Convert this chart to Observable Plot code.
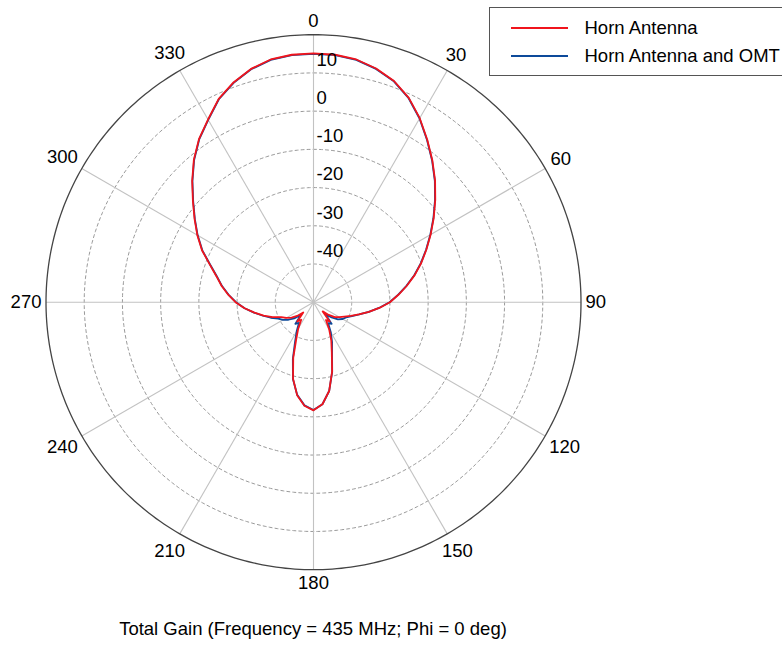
<!DOCTYPE html>
<html><head><meta charset="utf-8">
<script src="https://cdn.jsdelivr.net/npm/d3@7"></script>
<script src="https://cdn.jsdelivr.net/npm/@observablehq/plot@0.6"></script>
<style>
body{margin:0;background:#fff;overflow:hidden;font-family:"Liberation Sans",Arial,sans-serif;}
#wrap{position:relative;width:782px;height:646px;overflow:hidden;}
#legend{position:absolute;left:489px;top:7px;width:330px;height:69px;border:1.5px solid #555;box-sizing:border-box;background:#fff;}
.row{position:absolute;left:0;height:21px;}
.sw{position:absolute;left:20.5px;width:57px;height:0;border-top:2px solid;}
.lab{position:absolute;left:94.5px;font-size:18.5px;line-height:21px;white-space:nowrap;color:#000;}
#caption{position:absolute;left:0;top:617.5px;width:626px;text-align:center;font-size:18.5px;line-height:21px;color:#000;}
</style>
</head><body>
<div id="wrap"><div id="chart"></div>
<div id="legend"></div>
<div id="caption"></div>
</div>
<script>
// ---- data (angle in degrees, gain in dB) ----
const angles = [0,5,10,15,20,25,30,35,40,45,50,55,60,65,70,75,80,85,90,95,100,105,110,115,120,125,130,135,140,145,150,155,160,165,170,175,180,185,190,195,200,205,210,215,220,225,230,235,240,245,250,255,260,265,270,275,280,285,290,295,300,305,310,315,320,325,330,335,340,345,350,355];
const hornGain = [15.1,15.0,14.5,13.3,11.6,9.0,5.6,1.9,-1.6,-5.0,-8.4,-11.6,-14.6,-17.4,-20.0,-22.6,-25.2,-27.7,-30.0,-32.7,-35.3,-37.7,-39.6,-41.1,-42.2,-43.2,-44.8,-46.6,-43.4,-44.3,-41.8,-39.0,-36.0,-31.2,-26.4,-23.2,-21.7,-22.8,-25.3,-29.3,-34.5,-39.3,-42.0,-44.4,-43.4,-46.2,-44.4,-43.0,-41.8,-40.7,-38.6,-36.5,-34.3,-31.9,-29.6,-27.6,-25.6,-23.7,-21.1,-17.8,-14.9,-12.0,-8.8,-5.1,-1.3,2.2,5.2,8.7,11.2,13.2,14.5,15.0];
const hornOmtGain = [15.0,14.9,14.4,13.2,11.5,8.9,5.5,1.8,-1.7,-5.1,-8.5,-11.7,-14.7,-17.5,-20.1,-22.7,-25.3,-27.8,-30.1,-32.8,-35.3,-37.6,-39.3,-40.6,-41.2,-42.2,-43.8,-45.6,-42.6,-43.3,-41.0,-38.5,-35.8,-31.1,-26.4,-23.2,-21.8,-22.9,-25.4,-29.2,-34.2,-38.6,-41.2,-43.4,-42.6,-45.3,-43.4,-42.0,-40.8,-39.8,-38.1,-36.3,-34.2,-31.9,-29.7,-27.7,-25.7,-23.8,-21.2,-17.9,-15.0,-12.1,-8.9,-5.2,-1.4,2.1,5.1,8.6,11.1,13.1,14.4,14.9];
const seriesNames = ["Horn Antenna", "Horn Antenna and OMT"];
const seriesColors = ["#f0141c", "#0d4a9a"];
const ringLevels = [-40,-30,-20,-10,0,10];
const ringLabels = ["-40","-30","-20","-10","0","10"];
const outerLevel = 20;
const rMin = -50;
const spokeAngles = [0,30,60,90,120,150,180,210,240,270,300,330];
const spokeLabels = ["0","30","60","90","120","150","180","210","240","270","300","330"];
const captionText = "Total Gain (Frequency = 435 MHz; Phi = 0 deg)";

// ---- geometry helpers ----
const W = 782, H = 608, cx = 313, cy = 301.7, outerPx = 267.5;
const span = outerLevel - rMin;            // 70 units
const k = outerPx / span;                  // px per unit
const rad = d => d * Math.PI / 180;
const px = (a, r) => r * Math.sin(rad(a));
const py = (a, r) => r * Math.cos(rad(a));

const rows = [];
angles.forEach((a, i) => rows.push({series: seriesNames[1], a, r: hornOmtGain[i] - rMin}));
angles.forEach((a, i) => rows.push({series: seriesNames[0], a, r: hornGain[i] - rMin}));

const circleSteps = d3.range(0, 360, 1);
const ringPts = [];
ringLevels.forEach(lv => circleSteps.forEach(t => ringPts.push({lv, t, r: lv - rMin})));
const outerPts = circleSteps.map(t => ({t, r: span}));

const labelRows = spokeAngles.map((a, i) => {
  const s = spokeLabels[i];
  const w = s.length * 10.3, h = 18.5;
  const Rpx = 272 + Math.abs(Math.sin(rad(a))) * w / 2 + Math.abs(Math.cos(rad(a))) * h / 2;
  return {a, s, r: Rpx / k};
});

const chart = Plot.plot({
  width: W, height: H,
  margin: 0,
  x: {domain: [-cx / k, (W - cx) / k], axis: null},
  y: {domain: [-(H - cy) / k, cy / k], axis: null},
  style: {fontFamily: '"Liberation Sans", Arial, sans-serif', fontSize: "18.5px", background: "#fff", overflow: "visible"},
  marks: [
    Plot.line(ringPts, {x: d => px(d.t, d.r), y: d => py(d.t, d.r), z: "lv", curve: "linear-closed",
      stroke: "#9a9a9a", strokeWidth: 1, strokeDasharray: "3,3"}),
    Plot.link(spokeAngles, {x1: 0, y1: 0, x2: a => px(a, span), y2: a => py(a, span),
      stroke: "#c2c2c2", strokeWidth: 1.1}),
    Plot.line(outerPts, {x: d => px(d.t, d.r), y: d => py(d.t, d.r), curve: "linear-closed",
      stroke: "#444", strokeWidth: 1.3}),
    Plot.line(rows, {x: d => px(d.a, d.r), y: d => py(d.a, d.r), z: "series", curve: "linear-closed",
      stroke: d => d.series, strokeWidth: 1.8, strokeLinejoin: "round"}),
    Plot.text(ringLevels, {x: 0, y: lv => lv - rMin, text: (lv, i) => ringLabels[i],
      textAnchor: "start", dx: 3, dy: -13, fill: "#000", fontSize: 18.5}),
    Plot.text(labelRows, {x: d => px(d.a, d.r), y: d => py(d.a, d.r), text: "s",
      textAnchor: "middle", fill: "#000", fontSize: 18.5})
  ],
  color: {domain: seriesNames, range: seriesColors}
});
document.getElementById("chart").appendChild(chart);

// legend
const leg = document.getElementById("legend");
seriesNames.forEach((n, i) => {
  const row = document.createElement("div");
  row.className = "row";
  row.style.top = (i === 0 ? 9 : 37) + "px";
  row.style.width = "330px";
  const sw = document.createElement("div");
  sw.className = "sw";
  sw.style.top = "9.5px";
  sw.style.borderTopColor = seriesColors[i];
  const lab = document.createElement("div");
  lab.className = "lab";
  lab.style.top = "0px";
  lab.textContent = n;
  row.appendChild(sw); row.appendChild(lab);
  leg.appendChild(row);
});
document.getElementById("caption").textContent = captionText;
</script>
</body></html>
